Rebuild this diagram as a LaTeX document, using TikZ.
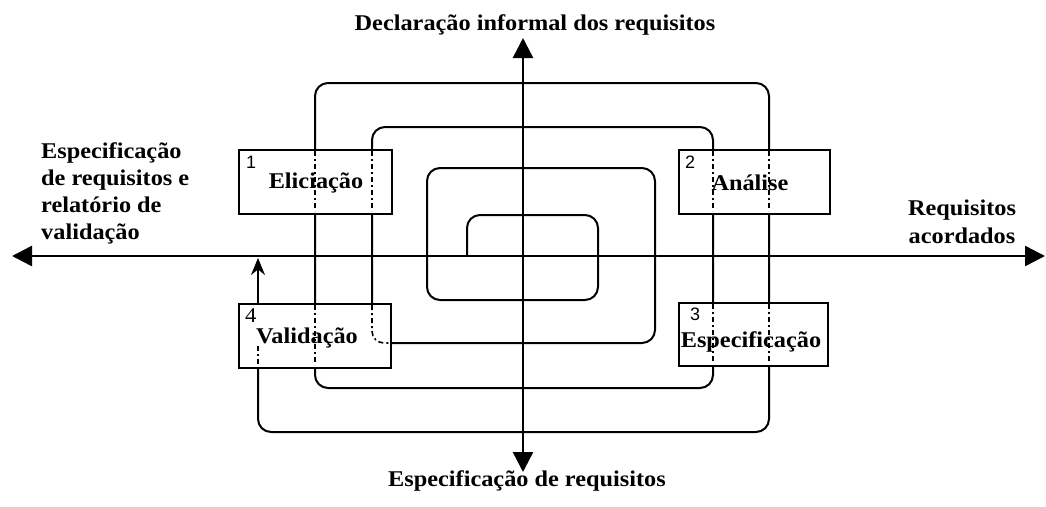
\documentclass[tikz,border=0pt]{standalone}
\usepackage{fontspec}
\setmainfont{Liberation Serif}[FakeStretch=1.08]
\newfontfamily\numsans{Liberation Sans}
\usetikzlibrary{arrows.meta}
\tikzset{
  lbl/.style={font=\bfseries\fontsize{22.5}{27}\selectfont, inner sep=0pt, anchor=base},
  lblw/.style={lbl, anchor=base west},
  box/.style={draw, line width=1.8pt, fill=white, inner sep=0pt, anchor=north west},
  num/.style={font=\numsans\fontsize{18}{18}\selectfont, inner sep=0pt, anchor=base west},
  numserif/.style={font=\fontsize{21}{21}\selectfont, inner sep=0pt, anchor=base west},
  axis/.style={line width=2.5pt, {Triangle[length=20pt,width=20pt]}-{Triangle[length=20pt,width=20pt]}},
  axisv/.style={line width=2.5pt, {Triangle[length=20pt,width=20pt]}-{Triangle[length=20pt,width=20pt]}},
  spiral/.style={line width=2pt, rounded corners=13pt},
  dd/.style={line width=1.6pt, dash pattern=on 5pt off 3pt on 2pt off 3pt},
  ddr/.style={dd, rounded corners=12pt},
  smallarrow/.style={line width=1.6pt, -{Stealth[length=17pt,width=14pt]}}
}
\begin{document}
\begin{tikzpicture}[x=1pt,y=-1pt]
\useasboundingbox (0,0) rectangle (1046,506);
% axes
\coordinate (hl) at (12,256);
\coordinate (hr) at (1045,256);
\coordinate (vt) at (523,38);
\coordinate (vb) at (523,472);
\draw[axis] (hl) -- (hr);
\draw[axisv] (vt) -- (vb);
% spiral
\coordinate (s0) at (467,256);
\draw[spiral] (s0) -- (467,215) -- (598,215) -- (598,300) -- (427,300) -- (427,168)
  -- (655,168) -- (655,343) -- (372,343) -- (372,127) -- (713,127) -- (713,388)
  -- (315,388) -- (315,83) -- (769,83) -- (769,432) -- (258,432) -- (258,367);
% boxes
\node[box, minimum width=153pt, minimum height=64pt] (b1) at (238,149) {};
\node[box, minimum width=151pt, minimum height=64pt] (b2) at (678,149) {};
\node[box, minimum width=149pt, minimum height=63pt] (b3) at (678,302) {};
\node[box, minimum width=152pt, minimum height=64pt] (b4) at (238,303) {};
% dotted continuations inside the boxes
\draw[dd] (315,151) -- (315,211);
\draw[dd] (372,151) -- (372,211);
\draw[dd] (713,151) -- (713,211);
\draw[dd] (769,151) -- (769,211);
\draw[dd] (713,304) -- (713,363);
\draw[dd] (769,304) -- (769,363);
\draw[dd] (315,305) -- (315,365);
\draw[ddr] (372,305) -- (372,343) -- (389,343);
\draw[dd] (258,346) -- (258,365);
% small arrow from Validacao
\coordinate (a4) at (258,303);
\coordinate (a4t) at (258,258);
\draw[smallarrow] (a4) -- (a4t);
% box texts
\node[lbl] (t1) at (316,188) {Eliciação};
\node[lbl] (t2) at (750,190) {Análise};
\node[lbl] (t3) at (751,347) {Especificação};
\node[lbl] (t4) at (307,343) {Validação};
\node[num] (n1) at (246,168) {1};
\node[num] (n2) at (685,168) {2};
\node[num] (n3) at (690,320) {3};
\node[numserif] (n4) at (245,322) {4};
% outer labels
\node[lbl] (top) at (535,30) {Declaração informal dos requisitos};
\node[lbl] (bot) at (527,486) {Especificação de requisitos};
\node[lblw] (l1) at (41,158) {Especificação};
\node[lblw] (l2) at (41,185) {de requisitos e};
\node[lblw] (l3) at (41,212) {relatório de};
\node[lblw] (l4) at (41,239) {validação};
\node[lbl] (r1) at (962,215) {Requisitos};
\node[lbl] (r2) at (962,243) {acordados};
\end{tikzpicture}
\end{document}
